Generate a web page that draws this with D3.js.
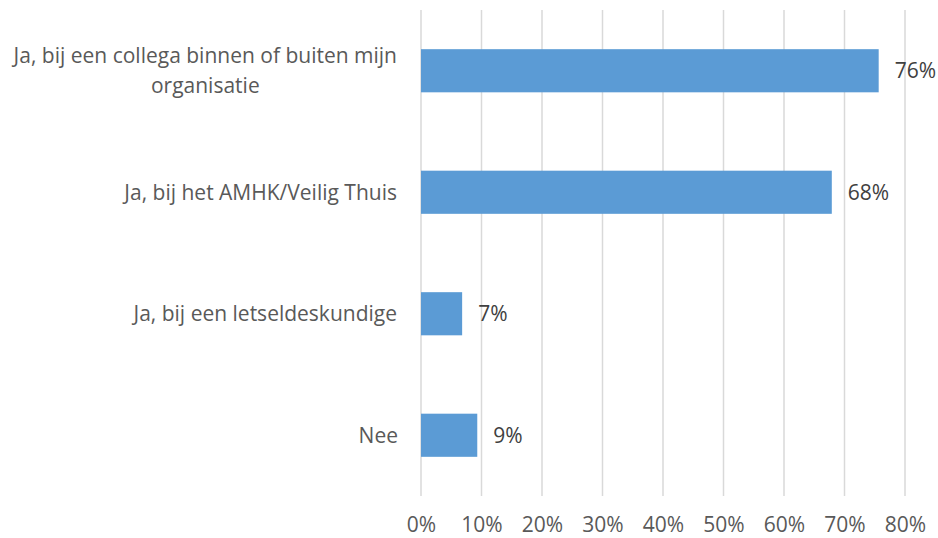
<!DOCTYPE html>
<html>
<head>
<meta charset="utf-8">
<script src="https://cdn.jsdelivr.net/npm/d3@7"></script>
<style>
  body { margin: 0; background: #fff; }
  svg { display: block; font-family: "Open Sans", sans-serif; }
</style>
</head>
<body>
<svg id="chart" width="938" height="538"></svg>
<script>
const categories = [
  ["Ja, bij een collega binnen of buiten mijn", "organisatie"],
  ["Ja, bij het AMHK/Veilig Thuis"],
  ["Ja, bij een letseldeskundige"],
  ["Nee"]
];
const values = [0.7565, 0.679, 0.068, 0.093];
const valueLabels = ["76%", "68%", "7%", "9%"];
const xTicks = [0, 0.1, 0.2, 0.3, 0.4, 0.5, 0.6, 0.7, 0.8];

const svg = d3.select("#chart");
const margin = { left: 421, right: 33, top: 10, bottom: 42 };
const W = 938, H = 538;
const x = d3.scaleLinear().domain([0, 0.8]).range([margin.left, W - margin.right]);
const y = d3.scaleBand().domain(d3.range(categories.length)).range([margin.top, H - margin.bottom]).padding(0);
const barH = y.bandwidth() * 0.355;
const textColor = "#595959";
const fontSize = 21;

// gridlines
svg.append("g").selectAll("line").data(xTicks).join("line")
  .attr("x1", d => x(d)).attr("x2", d => x(d))
  .attr("y1", margin.top).attr("y2", H - margin.bottom)
  .attr("stroke", "#d9d9d9").attr("stroke-width", 1.5);

// x axis labels
const xAxis = d3.axisBottom(x).tickValues(xTicks).tickFormat(d3.format(".0%")).tickSize(0).tickPadding(0);
const gx = svg.append("g").attr("transform", `translate(0,${H - margin.bottom})`).call(xAxis);
gx.select(".domain").remove();
gx.selectAll("text").attr("font-size", fontSize).attr("fill", textColor)
  .attr("font-family", "Open Sans, sans-serif").attr("dy", null).attr("y", 36);

// bars
svg.append("g").selectAll("rect").data(values).join("rect")
  .attr("x", x(0))
  .attr("y", (d, i) => y(i) + y.bandwidth() / 2 - barH / 2)
  .attr("width", d => x(d) - x(0))
  .attr("height", barH)
  .attr("fill", "#5b9bd5");

// value labels
svg.append("g").selectAll("text").data(values).join("text")
  .attr("x", d => x(d) + 16)
  .attr("y", (d, i) => y(i) + y.bandwidth() / 2)
  .attr("dy", "0.35em")
  .attr("font-size", fontSize).attr("fill", "#404040")
  .text((d, i) => valueLabels[i]);

// category labels
const lineH = 30;
const cg = svg.append("g");
categories.forEach((lines, i) => {
  const cy = y(i) + y.bandwidth() / 2;
  const t = cg.append("text")
    .attr("font-size", fontSize).attr("fill", textColor)
    .attr("text-anchor", "middle");
  lines.forEach((ln, j) => {
    t.append("tspan").attr("x", 0)
      .attr("y", cy + (j - (lines.length - 1) / 2) * lineH)
      .attr("dy", "0.35em").text(ln);
  });
  const bb = t.node().getBBox();
  t.attr("transform", `translate(${398 - bb.width / 2},0)`);
});
</script>
</body>
</html>
